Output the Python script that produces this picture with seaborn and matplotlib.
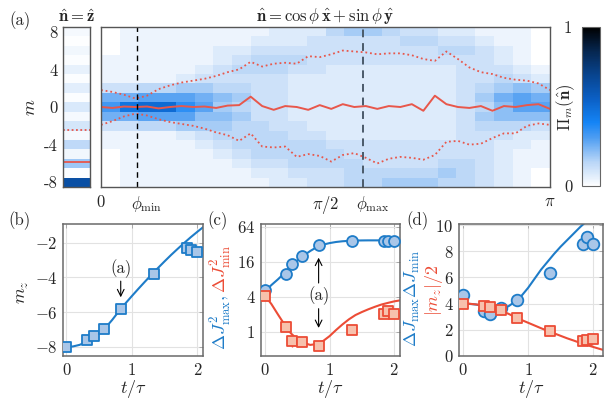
import numpy as np
import seaborn as sns
import matplotlib
matplotlib.use("Agg")
import matplotlib.pyplot as plt
from matplotlib.colors import LinearSegmentedColormap
from matplotlib.ticker import NullLocator
from matplotlib.transforms import ScaledTranslation

# ---------------- data ----------------
m_vals = list(range(8, -9, -1))

# panel (a), n = z strip: Pi_m for m = 8 ... -8
strip_prob = [0.02, 0.005, 0.03, 0.01, 0.05, 0.01, 0.06, 0.01, 0.08,
              0.02, 0.09, 0.02, 0.14, 0.03, 0.19, 0.01, 0.64]
strip_mean = -5.8
strip_spread = -2.45

# panel (a), n in the xy plane: 24 phi bins, one hex digit per bin (value = digit / 28)
heat_scale = 28
heat_rows = [
    "011111111222455433221110",  # m = 8
    "011111112223333344332110",  # m = 7
    "011111223333333333443210",  # m = 6
    "111111234443333333333210",  # m = 5
    "111112344433222222233321",  # m = 4
    "111123333322222222233432",  # m = 3
    "334455443322222222234565",  # m = 2
    "778887653322222222235787",  # m = 1
    "9deea8543322222222234688",  # m = 0
    "778886653322222222235666",  # m = -1
    "334455544332222222234443",  # m = -2
    "111123444433222222233322",  # m = -3
    "111112344444333333333221",  # m = -4
    "011111234444433333333211",  # m = -5
    "011111123344443333443211",  # m = -6
    "011111112233344444543210",  # m = -7
    "011111111223344555443210",  # m = -8
]

phi_min = 0.252
phi_max = 1.833

# mean and spread of m along phi (40 samples from 0 to pi)
mean_m = [0.0, -0.1, 0.05, 0.0, 0.05, -0.15, 0.0, 0.1, 0.0, 0.05,
          -0.1, 0.15, 0.2, 1.1, 0.1, -0.3, 0.1, 0.0, -0.3, 0.2,
          -0.2, 0.3, 0.0, 0.1, -0.2, 0.1, 0.0, 0.3, -0.4, 1.2,
          0.3, 0.0, -0.1, 0.1, -0.4, 0.1, 0.0, 0.2, 0.3, -0.2]
upper_m = [1.8, 1.6, 1.3, 0.9, 1.2, 1.9, 2.3, 2.6, 2.8, 3.0,
           3.3, 3.7, 4.0, 4.8, 4.3, 4.6, 4.7, 4.6, 5.4, 5.3,
           5.6, 6.0, 5.9, 5.8, 5.6, 5.7, 5.7, 5.5, 5.1, 4.9,
           5.9, 5.1, 4.2, 3.7, 3.5, 3.1, 2.9, 2.8, 2.5, 1.8]
lower_m = [-1.9, -1.5, -1.0, -0.7, -0.9, -1.3, -1.6, -1.8, -2.0, -2.3,
           -2.7, -3.0, -3.6, -2.8, -4.2, -4.3, -4.2, -5.3, -5.0, -5.2,
           -5.8, -5.1, -4.9, -5.4, -6.0, -5.5, -5.3, -5.4, -5.6, -5.1,
           -3.7, -3.6, -4.0, -3.9, -3.3, -2.8, -2.8, -2.0, -1.75, -1.9]

# panels (b)-(d): measured points
t_exp = [0.0, 0.32, 0.42, 0.58, 0.83, 1.34, 1.85, 1.90, 2.0]
mz_exp = [-8.0, -7.61, -7.37, -6.94, -5.82, -3.77, -2.29, -2.42, -2.55]
dJmax2_exp = [5.2, 9.7, 14.4, 20.3, 31.0, 37.0, 37.0, 37.0, 37.0]
dJmin2_exp = [4.2, 1.2, 0.70, 0.66, 0.57, 1.07, 2.0, 2.27, 2.0]
dJmin2_err = [0.1, 0.05, 0.15, 0.08, 0.05, 0.05, 0.15, 0.15, 0.1]
dJprod_exp = [4.64, 3.42, 3.17, 3.7, 4.26, 6.35, 8.52, 9.06, 8.52]
dJprod_err = [0.2, 0.15, 0.15, 0.15, 0.15, 0.35, 0.3, 0.3, 0.25]
absmz_exp = [4.0, 3.85, 3.75, 3.5, 2.94, 1.89, 1.15, 1.2, 1.33]

# panels (b)-(d): theory curves
t_th = [0.0, 0.1, 0.2, 0.3, 0.4, 0.5, 0.6, 0.7, 0.8, 0.9, 1.0, 1.1,
        1.2, 1.3, 1.4, 1.5, 1.6, 1.7, 1.8, 1.9, 2.0, 2.1, 2.2]
mz_th = [-8.0, -7.97, -7.88, -7.73, -7.52, -7.24, -6.88, -6.44, -5.95, -5.5, -5.07, -4.65,
         -4.24, -3.84, -3.45, -3.07, -2.7, -2.35, -2.01, -1.68, -1.37, -1.07, -0.78]
dJmax2_th = [5.0, 6.4, 8.0, 10.2, 13.5, 16.8, 20.5, 24.5, 28.5, 31.5, 33.5, 35.0,
             36.0, 36.6, 37.0, 37.2, 37.3, 37.3, 37.3, 37.3, 37.3, 37.3, 37.3]
dJmin2_th = [4.2, 3.0, 2.0, 1.35, 0.95, 0.75, 0.65, 0.6, 0.62, 0.7, 0.85, 1.08,
             1.35, 1.65, 1.95, 2.2, 2.45, 2.7, 2.95, 3.15, 3.35, 3.5, 3.62]
dJprod_th = [4.0, 3.98, 3.93, 3.85, 3.75, 3.67, 3.65, 3.8, 4.15, 4.6, 5.2, 5.9,
             6.6, 7.2, 7.8, 8.35, 8.85, 9.35, 9.85, 10.3, 10.7, 11.1, 11.5]
absmz_th = [4.0, 3.99, 3.94, 3.87, 3.76, 3.62, 3.44, 3.22, 2.98, 2.75, 2.54, 2.33,
            2.12, 1.92, 1.73, 1.54, 1.35, 1.18, 1.0, 0.84, 0.69, 0.54, 0.4]

# ---------------- style ----------------
sns.set_theme(style="whitegrid")
plt.rcParams.update({
    "font.family": "serif",
    "font.serif": ["cmr10", "DejaVu Serif"],
    "mathtext.fontset": "cm",
    "axes.formatter.use_mathtext": True,
    "font.size": 12,
})
FS = 12

blue = "#1e7cc8"
blue_face = "#a9c6e8"
red = "#ec4c36"
red_face = "#f7c1ad"
line_red = "#e8574b"

cmap = LinearSegmentedColormap.from_list("pim", [
    (0.0, "#ffffff"), (0.05, "#e6f0fc"), (0.15, "#b9d6f7"), (0.3, "#4f9ef2"),
    (0.4, "#1484f5"), (0.55, "#0b5fc4"), (0.7, "#08448e"), (0.85, "#06264f"),
    (1.0, "#000000")])

W, H = 605, 408
fig = plt.figure(figsize=(W / 100, H / 100), dpi=100)


def box(l, t, r, b):
    return [l / W, 1 - b / H, (r - l) / W, (b - t) / H]


def frame(ax, color="#555555", lw=1.0):
    for sp in ax.spines.values():
        sp.set_visible(True)
        sp.set_color(color)
        sp.set_linewidth(lw)


# ---------------- panel (a) ----------------
ax_s = fig.add_axes(box(63, 27, 90, 187))
ax_h = fig.add_axes(box(101, 27, 550, 187))
cax = fig.add_axes(box(582, 27, 600, 186))

heat = np.array([[int(c, 16) for c in row] for row in heat_rows]) / heat_scale
nphi = heat.shape[1]

sns.heatmap(np.array(strip_prob)[:, None], ax=ax_s, cmap=cmap, vmin=0, vmax=1,
            cbar=False, xticklabels=False, yticklabels=False)
sns.heatmap(heat, ax=ax_h, cmap=cmap, vmin=0, vmax=1, cbar_ax=cax,
            xticklabels=False, yticklabels=False)

ax_s.axhline(8.5 - strip_mean, color=line_red, lw=1.3)
ax_s.axhline(8.5 - strip_spread, color=line_red, lw=1.3, ls=(0, (1, 1.4)))

line_phi = np.linspace(0, np.pi, len(mean_m))
xcell = line_phi / np.pi * nphi
sns.lineplot(x=xcell, y=8.5 - np.array(mean_m), ax=ax_h, color=line_red, lw=1.4, sort=False)
sns.lineplot(x=xcell, y=8.5 - np.array(upper_m), ax=ax_h, color=line_red, lw=1.3,
             linestyle=(0, (1, 1.6)), sort=False)
sns.lineplot(x=xcell, y=8.5 - np.array(lower_m), ax=ax_h, color=line_red, lw=1.3,
             linestyle=(0, (1, 1.6)), sort=False)
ax_h.axvline(phi_min / np.pi * nphi, color="black", lw=1.0, ls=(0, (4, 3)))
ax_h.axvline(phi_max / np.pi * nphi, color="#4a5a6a", lw=1.4, ls=(0, (4, 3)))
ax_h.set_xlim(0, nphi)
ax_h.set_ylim(17, 0)
ax_s.set_ylim(17, 0)

for ax in (ax_s, ax_h):
    ax.grid(False)
    frame(ax)
    ax.set_yticks([8.5 - m for m in m_vals], minor=True)
    ax.tick_params(axis="y", which="both", direction="in", left=True, right=True,
                   length=3, width=0.6, color="#9a9a9a")

ax_s.set_xticks([])
ax_s.set_yticks([8.5 - m for m in [8, 4, 0, -4, -8]])
ax_s.set_yticklabels(["8", "4", "0", "-4", "-8"], fontsize=FS)
ax_s.tick_params(axis="y", which="major", pad=4)

ax_h.set_yticks([])
ax_h.set_xticks([0, phi_min / np.pi * nphi, nphi / 2, phi_max / np.pi * nphi, nphi])
ax_h.set_xticklabels(["$0$", r"$\phi_{\min}$", r"$\pi/2$", r"$\phi_{\max}$", r"$\pi$"],
                     fontsize=FS)
ax_h.tick_params(axis="x", direction="in", top=True, bottom=True, length=4,
                 width=0.6, color="#9a9a9a", pad=5)
for i in (1, 3):
    lab = ax_h.get_xticklabels()[i]
    lab.set_transform(lab.get_transform() + ScaledTranslation(0.10, 0, fig.dpi_scale_trans))

cb = ax_h.collections[0].colorbar
cb.set_ticks([0, 1])
cb.set_ticklabels(["0", "1"])
cax.yaxis.set_ticks_position("left")
cax.tick_params(length=0, pad=7, labelsize=FS)
cb.outline.set_edgecolor("#666666")
cb.outline.set_linewidth(0.8)

fig.text(77 / W, 1 - 17 / H, r"$\hat{\mathbf{n}} = \hat{\mathbf{z}}$", ha="center",
         va="center", fontsize=FS)
fig.text(325 / W, 1 - 16 / H,
         r"$\hat{\mathbf{n}} = \cos\phi\,\hat{\mathbf{x}} + \sin\phi\,\hat{\mathbf{y}}$",
         ha="center", va="center", fontsize=FS)
fig.text(30 / W, 1 - 107 / H, "$m$", rotation=90, ha="center", va="center", fontsize=13)
fig.text(566 / W, 1 - 107 / H, r"$\Pi_m(\hat{\mathbf{n}})$", rotation=90, ha="center",
         va="center", fontsize=FS)
fig.text(20 / W, 1 - 21 / H, "(a)", ha="center", va="center", fontsize=FS)


# ---------------- panels (b)-(d) ----------------
def style_panel(ax):
    ax.grid(True, color="#e2e2e2", lw=0.8)
    ax.set_axisbelow(True)
    frame(ax, "#6a6a6a", 1.1)
    ax.tick_params(direction="in", length=3, width=0.6, color="#a0a0a0", labelsize=FS,
                   pad=4, top=True, right=True)


ax_b = fig.add_axes(box(63, 224, 203, 356))
ax_c = fig.add_axes(box(261, 224, 400, 356))
ax_d = fig.add_axes(box(459, 224, 603, 356))

# (b)
sns.lineplot(x=t_th, y=mz_th, ax=ax_b, color=blue, lw=1.5)
sns.scatterplot(x=t_exp, y=mz_exp, ax=ax_b, marker="s", s=45, color=blue_face,
                edgecolor=blue, linewidth=1.3, zorder=3)
ax_b.annotate("", xy=(0.83, -5.3), xytext=(0.83, -4.05),
              arrowprops=dict(arrowstyle="->", color="black", lw=0.8))
ax_b.text(0.83, -3.5, "(a)", ha="center", va="center", fontsize=FS)
ax_b.set_xlim(-0.052, 2.087)
ax_b.set_ylim(-8.52, -0.92)
ax_b.set_xticks([0, 1, 2])
ax_b.set_xticklabels(["$0$", "$1$", "$2$"])
ax_b.set_yticks([-8, -6, -4, -2])
ax_b.set_yticklabels(["$-8$", "$-6$", "$-4$", "$-2$"])
style_panel(ax_b)

# (c)
ax_c.set_yscale("log", base=2)
sns.lineplot(x=t_th, y=dJmax2_th, ax=ax_c, color=blue, lw=1.5)
sns.lineplot(x=t_th, y=dJmin2_th, ax=ax_c, color=red, lw=1.5)
ax_c.errorbar(t_exp, dJmin2_exp, yerr=dJmin2_err, fmt="none", ecolor=red, elinewidth=1.0,
              zorder=2)
sns.scatterplot(x=t_exp, y=dJmax2_exp, ax=ax_c, marker="o", s=62, color=blue_face,
                edgecolor=blue, linewidth=1.3, zorder=3)
sns.scatterplot(x=t_exp, y=dJmin2_exp, ax=ax_c, marker="s", s=45, color=red_face,
                edgecolor=red, linewidth=1.3, zorder=3)
ax_c.annotate("", xy=(0.83, 21), xytext=(0.83, 6.2),
              arrowprops=dict(arrowstyle="->", color="black", lw=0.8))
ax_c.annotate("", xy=(0.83, 1.05), xytext=(0.83, 2.8),
              arrowprops=dict(arrowstyle="->", color="black", lw=0.8))
ax_c.text(0.83, 4.2, "(a)", ha="center", va="center", fontsize=FS)
ax_c.set_xlim(-0.062, 2.09)
ax_c.set_ylim(0.387, 71.2)
ax_c.set_yticks([1, 4, 16, 64])
ax_c.set_yticklabels(["$1$", "$4$", "$16$", "$64$"])
ax_c.yaxis.set_minor_locator(NullLocator())
ax_c.set_xticks([0, 1, 2])
ax_c.set_xticklabels(["$0$", "$1$", "$2$"])
style_panel(ax_c)

# (d)
sns.lineplot(x=t_th, y=dJprod_th, ax=ax_d, color=blue, lw=1.5)
sns.lineplot(x=t_th, y=absmz_th, ax=ax_d, color=red, lw=1.5)
ax_d.errorbar(t_exp, dJprod_exp, yerr=dJprod_err, fmt="none", ecolor=blue, elinewidth=1.0,
              zorder=2)
sns.scatterplot(x=t_exp, y=dJprod_exp, ax=ax_d, marker="o", s=70, color=blue_face,
                edgecolor=blue, linewidth=1.3, zorder=3)
sns.scatterplot(x=t_exp, y=absmz_exp, ax=ax_d, marker="s", s=45, color=red_face,
                edgecolor=red, linewidth=1.3, zorder=3)
ax_d.set_xlim(-0.06, 2.15)
ax_d.set_ylim(0, 10.08)
ax_d.set_yticks([0, 2, 4, 6, 8, 10])
ax_d.set_yticklabels(["$0$", "$2$", "$4$", "$6$", "$8$", "$10$"])
ax_d.set_xticks([0, 1, 2])
ax_d.set_xticklabels(["$0$", "$1$", "$2$"])
style_panel(ax_d)

for ax in (ax_b, ax_c, ax_d):
    ax.set_xlabel(r"$t/\tau$", fontsize=13, labelpad=0)
    ax.set_ylabel("")

# y labels and panel letters
fig.text(23 / W, 1 - 292 / H, "$m_z$", rotation=90, ha="center", va="center", fontsize=13)
fig.text(221 / W, 1 - 350 / H, r"$\Delta J^2_{\max},$", rotation=90, ha="center",
         va="bottom", fontsize=13, color=blue)
fig.text(221 / W, 1 - 293 / H, r"$\Delta J^2_{\min}$", rotation=90, ha="center",
         va="bottom", fontsize=13, color=red)
fig.text(412 / W, 1 - 298 / H, r"$\Delta J_{\max}\Delta J_{\min}$", rotation=90,
         ha="center", va="center", fontsize=13, color=blue)
fig.text(434 / W, 1 - 290 / H, r"$|m_z|/2$", rotation=90, ha="center", va="center",
         fontsize=13, color=red)
fig.text(19 / W, 1 - 221 / H, "(b)", ha="center", va="center", fontsize=FS)
fig.text(218 / W, 1 - 221 / H, "(c)", ha="center", va="center", fontsize=FS)
fig.text(418 / W, 1 - 221 / H, "(d)", ha="center", va="center", fontsize=FS)

fig.savefig("out.png", dpi=100)
